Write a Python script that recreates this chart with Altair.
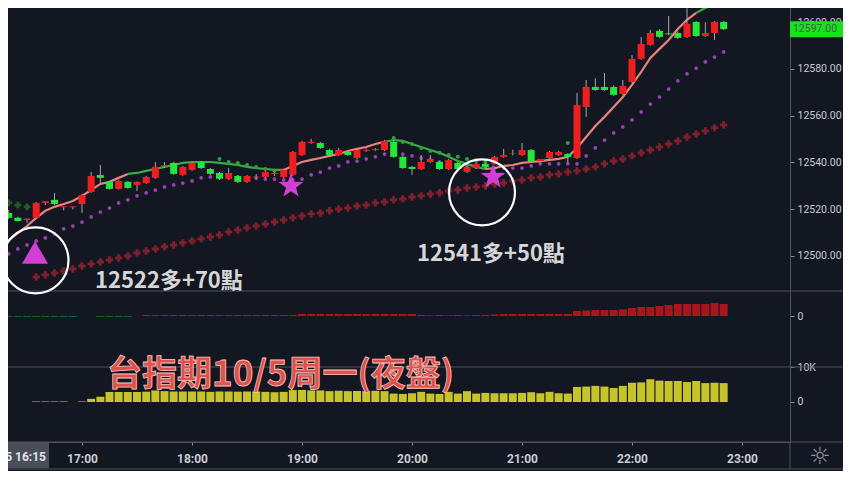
import altair as alt
import pandas as pd
from datetime import datetime, timedelta

# ---------------- data ----------------
# 5-minute bars from 16:15 to 22:50 (80 bars)
bar_open = [12517.1, 12518.4, 12516.3, 12515.4, 12516.3, 12522.7, 12524.0, 12520.8, 12520.8,
            12522.2, 12527.4, 12534.6, 12531.7, 12528.7, 12531.7, 12530.4, 12531.2, 12533.4, 12538.4,
            12539.8, 12534.7, 12536.8, 12540.2, 12537.2, 12535.5, 12533.0, 12534.2, 12531.7, 12533.6,
            12533.8, 12535.0, 12533.8, 12534.7, 12543.2, 12548.3, 12548.3, 12545.3, 12543.2, 12544.5,
            12541.9, 12545.0, 12545.3, 12545.3, 12548.8, 12542.4, 12538.1, 12537.2, 12540.2, 12540.2,
            12537.2, 12539.8, 12535.9, 12537.6, 12539.4, 12539.4, 12542.4, 12543.8, 12543.2, 12545.3,
            12540.6, 12541.9, 12543.2, 12543.6, 12541.9, 12563.7, 12572.3, 12572.3, 12572.3, 12569.3,
            12574.4, 12584.3, 12590.3, 12596.3, 12595.2, 12595.4, 12593.7, 12600.1, 12594.1, 12595.4,
            12600.1]
bar_high = [12520.5, 12519.7, 12516.8, 12516.0, 12523.1, 12523.4, 12527.0, 12521.2, 12521.2,
            12526.5, 12535.9, 12538.9, 12532.1, 12532.5, 12532.1, 12531.9, 12534.2, 12540.2, 12540.2,
            12540.2, 12538.5, 12540.2, 12540.6, 12537.6, 12535.9, 12537.6, 12534.6, 12534.6, 12535.0,
            12536.3, 12535.9, 12537.2, 12544.9, 12549.2, 12550.1, 12548.8, 12545.8, 12546.2, 12544.9,
            12545.8, 12546.0, 12546.2, 12549.6, 12549.2, 12542.8, 12538.5, 12543.2, 12543.2, 12540.6,
            12541.5, 12540.2, 12538.5, 12539.8, 12539.8, 12542.8, 12545.8, 12545.5, 12548.3, 12545.8,
            12541.5, 12544.9, 12544.9, 12544.0, 12569.7, 12575.3, 12576.0, 12578.3, 12573.0, 12575.3,
            12586.0, 12593.7, 12596.7, 12597.0, 12602.7, 12596.0, 12606.0, 12600.5, 12600.0, 12600.5,
            12600.5]
bar_low = [12516.5, 12515.8, 12514.8, 12514.1, 12515.8, 12521.8, 12521.8, 12519.5, 12519.9,
           12518.4, 12527.0, 12531.2, 12528.4, 12528.4, 12528.7, 12527.8, 12530.8, 12533.0, 12537.6,
           12534.7, 12534.3, 12536.4, 12537.2, 12534.7, 12532.5, 12532.5, 12531.2, 12531.2, 12532.4,
           12533.4, 12534.2, 12533.4, 12534.2, 12542.8, 12548.0, 12545.8, 12542.8, 12542.8, 12542.8,
           12541.5, 12544.5, 12544.9, 12544.9, 12542.0, 12537.2, 12534.7, 12536.8, 12539.8, 12536.8,
           12536.8, 12536.8, 12535.5, 12537.2, 12537.6, 12539.0, 12542.0, 12543.0, 12542.8, 12539.8,
           12540.2, 12541.5, 12542.8, 12539.8, 12541.5, 12559.5, 12570.6, 12570.6, 12568.5, 12568.9,
           12574.0, 12583.9, 12589.9, 12593.3, 12594.4, 12592.9, 12593.3, 12593.7, 12593.7, 12592.4,
           12596.7]
bar_close = [12519.7, 12516.3, 12515.0, 12516.0, 12522.7, 12523.4, 12522.2, 12521.2, 12521.2,
             12526.1, 12534.2, 12533.4, 12528.7, 12532.1, 12529.1, 12531.7, 12533.8, 12538.1, 12538.8,
             12535.1, 12538.1, 12539.8, 12537.6, 12535.1, 12533.0, 12535.5, 12531.7, 12534.2, 12533.9,
             12535.9, 12535.5, 12536.8, 12544.5, 12548.8, 12548.8, 12546.2, 12543.2, 12545.3, 12543.2,
             12545.3, 12545.4, 12545.8, 12549.2, 12542.4, 12537.6, 12537.2, 12540.2, 12541.5, 12537.2,
             12541.1, 12537.2, 12538.1, 12539.4, 12538.1, 12542.4, 12543.2, 12544.0, 12545.3, 12540.2,
             12541.5, 12544.5, 12544.5, 12542.4, 12564.6, 12572.3, 12571.0, 12571.0, 12568.9, 12572.7,
             12584.3, 12590.7, 12595.4, 12593.7, 12594.8, 12593.3, 12599.3, 12594.1, 12595.4, 12600.1,
             12597.0]

# fast moving average (line) and its trend state
ma_fast = [12503.9, 12506.8, 12509.8, 12512.8, 12516.3, 12519.3, 12521.0, 12522.2, 12523.5,
           12525.7, 12528.2, 12530.8, 12531.7, 12533.4, 12535.1, 12535.5, 12536.4, 12537.2, 12538.1,
           12538.9, 12539.8, 12540.2, 12540.2, 12540.2, 12539.8, 12539.4, 12538.9, 12538.1, 12537.6,
           12537.2, 12536.8, 12536.8, 12538.5, 12540.2, 12541.1, 12541.9, 12542.8, 12543.6, 12544.9,
           12545.8, 12546.6, 12547.9, 12548.8, 12549.6, 12549.2, 12547.9, 12546.6, 12545.3, 12544.1,
           12542.4, 12540.6, 12539.4, 12538.1, 12537.2, 12537.6, 12538.5, 12538.9, 12539.8, 12540.2,
           12540.6, 12541.1, 12541.5, 12542.4, 12546.2, 12550.9, 12555.6, 12559.5, 12563.7, 12568.0,
           12573.2, 12578.7, 12584.7, 12588.6, 12592.4, 12597.1, 12601.0, 12604.0, 12606.1, 12607.4,
           12608.2]
ma_state = (["up"] * 15 + ["down"] * 17 + ["up"] * 11 + ["down"] * 11 + ["up"] * 23 + ["down"] * 3)

# middle average (purple dots)
ma_mid = [12499.1, 12500.9, 12503.0, 12504.7, 12506.4, 12507.7, 12509.4, 12511.6, 12512.8,
          12514.5, 12516.7, 12518.8, 12520.5, 12522.7, 12524.0, 12525.7, 12527.0, 12528.2, 12529.5,
          12530.4, 12531.2, 12532.1, 12533.4, 12533.8, 12533.8, 12533.8, 12533.8, 12533.4, 12533.4,
          12532.9, 12532.9, 12532.5, 12532.5, 12532.9, 12534.7, 12535.9, 12537.6, 12538.5, 12540.2,
          12540.6, 12541.5, 12542.4, 12543.6, 12544.1, 12543.6, 12542.8, 12541.9, 12541.1, 12540.2,
          12539.8, 12538.9, 12538.5, 12538.1, 12537.6, 12537.6, 12537.6, 12537.6, 12537.6, 12538.5,
          12539.4, 12539.4, 12539.4, 12539.4, 12539.4, 12542.8, 12546.2, 12549.6, 12552.6, 12555.2,
          12558.2, 12561.6, 12565.0, 12568.0, 12571.4, 12574.9, 12577.9, 12580.4, 12583.0, 12585.1,
          12587.3]

# slow average (dark red crosses), first four bars not drawn
ma_slow = [None, None, None, None, 12491.0, 12491.9, 12492.7, 12493.6, 12494.4,
           12495.7, 12496.6, 12497.4, 12498.3, 12499.1, 12500.0, 12501.3, 12502.1, 12503.0, 12503.9,
           12504.7, 12505.6, 12506.4, 12507.3, 12508.1, 12509.0, 12510.3, 12511.1, 12512.0, 12512.8,
           12513.7, 12514.5, 12515.4, 12516.3, 12517.1, 12518.0, 12518.4, 12519.3, 12520.1, 12520.5,
           12521.4, 12521.8, 12522.7, 12523.1, 12524.0, 12524.4, 12525.2, 12525.7, 12526.5, 12527.0,
           12527.8, 12528.2, 12529.1, 12529.5, 12529.9, 12530.8, 12531.2, 12532.1, 12532.5, 12533.4,
           12533.8, 12534.7, 12535.1, 12535.9, 12536.4, 12537.2, 12538.1, 12539.4, 12540.6, 12541.5,
           12542.8, 12544.1, 12545.3, 12546.6, 12547.9, 12549.2, 12550.9, 12552.2, 12553.5, 12554.8,
           12556.0]

# stop dots above price (green), by bar index
stop_idx = [24, 25, 26, 27, 28, 29, 30, 43, 44, 45, 46, 47, 48, 49, 50, 51, 52, 53, 62]
stop_val = [12541.5, 12540.2, 12539.8, 12538.9, 12538.1, 12537.2, 12536.4,
            12550.5, 12548.8, 12547.9, 12546.2, 12544.9, 12544.1, 12543.2, 12542.4, 12541.5,
            12540.6, 12540.2, 12548.3]
# dark green crosses at the far left
early_idx = [0, 1, 2, 3]
early_val = [12523.5, 12522.7, 12521.8, 12521.0]

# oscillator histogram (panel 2)
hist_vals = [-0.8, -0.8, -0.8, -0.8, -0.8, -0.8, -0.8, -0.8, -0.8,
             0, 0, -0.8, -0.8, -0.8, -0.8, 0, 1, 1, 1,
             1, 1, 1, 1, 1, 1, 1, 1, 1, 1,
             1, 1, 1, 1, 2, 2, 2, 2, 2, 2,
             2, 2, 2, 2, 2, 2, 2, 1, 0.6, 1,
             0.6, 1, 0.6, 1, 1, 1.5, 2, 2, 2, 2,
             2, 2, 2, 2, 5, 5.5, 6, 6, 6, 6.5,
             8, 9, 9, 10, 11, 12, 12, 12, 12, 13,
             12]

# volume (panel 3)
vol_vals = [0, 0, 0, 0, 150, 150, 150, 150, 0,
            150, 900, 1500, 2850, 2850, 2850, 2850, 2950, 3300, 3100,
            3000, 3000, 3000, 3000, 2900, 3000, 3000, 2950, 3000, 3000,
            2900, 2800, 2900, 3400, 3450, 3300, 3300, 3100, 3200, 3100,
            3150, 3100, 3200, 3100, 2400, 2300, 2500, 2900, 2400, 2300,
            2900, 2400, 3100, 2400, 2600, 2500, 2500, 2500, 2600, 2800,
            2500, 2900, 2500, 2400, 4300, 4400, 4600, 4400, 4000, 4600,
            5500, 5600, 6500, 6100, 6000, 6000, 5700, 6000, 5400, 5500,
            5400]

price_ticks = [12500, 12520, 12540, 12560, 12580, 12600]
hour_ticks = [17, 18, 19, 20, 21, 22, 23]
last_price = 12597.0

notes_text = ["12522多+70點", "12541多+50點"]
notes_time = ["2020-10-05T17:07:05", "2020-10-05T20:02:44"]
notes_price = [12489.3, 12500.9]

ring_time = ["2020-10-05T16:34:38", "2020-10-05T20:38:11"]
ring_price = [12498.1, 12527.2]
star_time = ["2020-10-05T18:54:00", "2020-10-05T20:44:12"]
star_price = [12529.9, 12533.8]
tri_time = ["2020-10-05T16:34:22"]
tri_price = [12501.5]

title_text = "台指期10/5周一(夜盤)"
title_time = "2020-10-05T17:13:38"
title_level = 7714

# ---------------- tables ----------------
N = len(bar_open)
base = datetime(2020, 10, 5, 16, 15)
times = [(base + timedelta(minutes=5 * i)).strftime("%Y-%m-%dT%H:%M:%S") for i in range(N)]

candles = pd.DataFrame({"t": times, "o": bar_open, "h": bar_high, "l": bar_low, "c": bar_close})
candles["dir"] = ["rise" if c >= o else "fall" for o, c in zip(bar_open, bar_close)]

rows = []
grp = 0
for i in range(N):
    if i > 0 and ma_state[i] != ma_state[i - 1]:
        grp += 1
        rows.append(dict(t=times[i - 1], v=ma_fast[i - 1], state=ma_state[i], grp=grp))
    rows.append(dict(t=times[i], v=ma_fast[i], state=ma_state[i], grp=grp))
ma_df = pd.DataFrame(rows)
mid_df = pd.DataFrame({"t": times, "v": ma_mid})
slow_df = pd.DataFrame({"t": times, "v": ma_slow}).dropna()
stop_df = pd.DataFrame({"t": [times[i] for i in stop_idx], "v": stop_val})
early_df = pd.DataFrame({"t": [times[i] for i in early_idx], "v": early_val})
hist_df = pd.DataFrame({"t": times, "v": hist_vals})
hist_df["sign"] = ["pos" if v >= 0 else "neg" for v in hist_vals]
hist_df = hist_df[hist_df["v"] != 0]
vol_df = pd.DataFrame({"t": times, "v": vol_vals})
vol_df = vol_df[vol_df["v"] > 0]
notes_df = pd.DataFrame({"t": notes_time, "p": notes_price, "txt": notes_text})
ring_df = pd.DataFrame({"t": ring_time, "p": ring_price})
star_df = pd.DataFrame({"t": star_time, "p": star_price})
tri_df = pd.DataFrame({"t": tri_time, "p": tri_price})
title_df = pd.DataFrame({"t": [title_time], "v": [title_level], "txt": [title_text]})
last_df = pd.DataFrame({"p": [last_price], "txt": [f"{last_price:.2f}"]})

# ---------------- scales / axes ----------------
BG = "#131722"
LINE = "#50535e"
LABEL = "#c9ccd4"
FONT = "Roboto"

def dt(h, m=0, s=0):
    return alt.DateTime(year=2020, month=10, date=5, hours=h, minutes=m, seconds=s)

xscale = alt.Scale(domain=[dt(16, 15, 16), dt(23, 26, 11)], padding=0)
xaxis = alt.Axis(format="%H:%M", values=[dt(h) for h in hour_ticks], title=None, grid=False,
                 labelColor=LABEL, labelFont=FONT, labelFontSize=12, labelFontWeight="bold",
                 tickColor="#8a8d96", tickSize=3, domainColor=LINE, labelPadding=8)

def X(field="t"):
    return alt.X(f"{field}:T", scale=xscale, axis=xaxis)

price_scale = alt.Scale(domain=[12485.0, 12609.5], range=[291, 0], nice=False, zero=False)
hist_scale = alt.Scale(domain=[-51, 25], range=[367, 291], nice=False, zero=False)
vol_scale = alt.Scale(domain=[-11429, 10000], range=[442, 367], nice=False, zero=False)

axis_style = dict(orient="right", title=None, grid=False, labelColor=LABEL, labelFont=FONT,
                  labelFontSize=10.5, tickColor="#8a8d96", tickSize=4, domainColor=LINE,
                  labelPadding=3)

def PY(field, axis=None):
    return alt.Y(f"{field}:Q", scale=price_scale, axis=axis)

price_axis = alt.Axis(values=price_ticks, format=".2f", **axis_style)
hist_axis = alt.Axis(values=[0], labelExpr="'0'", **axis_style)
vol_axis = alt.Axis(values=[0, 10000], labelExpr="datum.value == 0 ? '0' : '10K'", **axis_style)

STAR = ("M0,-1L0.235,-0.324L0.951,-0.309L0.38,0.124L0.588,0.809L0,0.4L-0.588,0.809"
        "L-0.38,0.124L-0.951,-0.309L-0.235,-0.324Z")
BOX = "M-3.8125,-1L3.8125,-1L3.8125,1L-3.8125,1Z"
MAGENTA = "#d23fd4"

# ---------------- layers ----------------
wicks = alt.Chart(candles).mark_rule(color="#a3a6af", strokeWidth=1).encode(
    x=X(), y=PY("l", price_axis), y2="h:Q")
bodies = alt.Chart(candles).mark_bar(width=7).encode(
    x=X(), y=PY("o"), y2="c:Q",
    color=alt.Color("dir:N", scale=alt.Scale(domain=["rise", "fall"], range=["#f01e1e", "#22e83a"]),
                    legend=None))
slow = alt.Chart(slow_df).mark_point(shape="cross", filled=True, size=55, color="#7e1f2c",
                                     opacity=1).encode(x=X(), y=PY("v"))
early = alt.Chart(early_df).mark_point(shape="cross", filled=True, size=45, color="#1f5e2b",
                                       opacity=1).encode(x=X(), y=PY("v"))
mid = alt.Chart(mid_df).mark_circle(size=14, color="#9c40b6", opacity=1).encode(x=X(), y=PY("v"))
fast = alt.Chart(ma_df).mark_line(strokeWidth=2.2).encode(
    x=X(), y=PY("v"), detail="grp:N",
    color=alt.Color("state:N", scale=alt.Scale(domain=["up", "down"], range=["#e8837d", "#37ad43"]),
                    legend=None))
stops = alt.Chart(stop_df).mark_circle(size=16, color="#2f9f3c", opacity=1).encode(x=X(), y=PY("v"))

rings = alt.Chart(ring_df).mark_point(shape="circle", filled=False, size=4350, color="white",
                                      strokeWidth=2.2, opacity=1).encode(x=X(), y=PY("p"))
tri = alt.Chart(tri_df).mark_point(shape="triangle-up", filled=True, size=680, color=MAGENTA,
                                   opacity=1).encode(x=X(), y=PY("p"))
stars = alt.Chart(star_df).mark_point(shape=STAR, filled=True, size=680, color=MAGENTA,
                                      opacity=1).encode(x=X(), y=PY("p"))
notes = alt.Chart(notes_df).mark_text(align="left", baseline="middle", fontSize=22,
                                      fontWeight="bold", font="Noto Sans CJK TC",
                                      color="#d6d6d6").encode(x=X(), y=PY("p"), text="txt:N")

last_box = alt.Chart(last_df).mark_point(shape=BOX, filled=True, size=256, color="#16e21c",
                                         opacity=1).encode(x=alt.value(820.5), y=PY("p"))
last_txt = alt.Chart(last_df).mark_text(fontSize=10.5, font=FONT, color="#4d5a4d").encode(
    x=alt.value(815), y=PY("p"), text="txt:N")

hist = alt.Chart(hist_df).mark_bar(width=8).encode(
    x=X(), y=alt.Y("v:Q", scale=hist_scale, axis=hist_axis), y2=alt.datum(0),
    color=alt.Color("sign:N", scale=alt.Scale(domain=["pos", "neg"], range=["#a8161c", "#1f6e2c"]),
                    legend=None))

vol = alt.Chart(vol_df).mark_bar(width=8, color="#c6c32b").encode(
    x=X(), y=alt.Y("v:Q", scale=vol_scale, axis=vol_axis), y2=alt.datum(0))

title = alt.Chart(title_df).mark_text(align="left", baseline="middle", fontSize=35,
                                      font="Noto Sans CJK TC", fontWeight="bold",
                                      color="#e0504c", stroke="#f6c2ba", strokeWidth=0.8).encode(
    x=X(), y=alt.Y("v:Q", scale=vol_scale, axis=None), text="txt:N")

# decorations: panel separators, time-axis frame, crosshair label, settings glyph
def hrule(ypix):
    return alt.Chart().mark_rule(color=LINE, strokeWidth=1).encode(
        x=alt.value(-8), x2=alt.value(851), y=alt.value(ypix))

sep1 = hrule(291)
sep2 = hrule(367)
sep3 = hrule(442)
sep4 = hrule(469)
vline = alt.Chart().mark_rule(color=LINE, strokeWidth=1).encode(
    x=alt.value(790), y=alt.value(442), y2=alt.value(469))
cross_box = alt.Chart().mark_rect(color="#4a4e5a").encode(
    x=alt.value(-8), x2=alt.value(49), y=alt.value(443), y2=alt.value(468))
cross_txt = alt.Chart().mark_text(text="05  16:15", align="right", baseline="middle", fontSize=12,
                                  font=FONT, fontWeight="bold", color="#e0e3eb").encode(
    x=alt.value(46), y=alt.value(457))
gear = alt.Chart().mark_text(text="☼", fontSize=24, font="DejaVu Sans", color="#9598a1").encode(
    x=alt.value(820), y=alt.value(457))

chart = alt.layer(
    sep1, sep2, sep3, sep4, vline,
    vol, hist,
    slow, early, mid, fast, stops,
    wicks, bodies,
    rings, tri, stars, notes,
    title,
    last_box, last_txt,
    cross_box, cross_txt, gear,
).resolve_scale(y="independent", color="independent").resolve_axis(y="independent").properties(
    width=790, height=442,
    padding={"left": -8, "top": -8, "right": 53, "bottom": 29},
    autosize=alt.AutoSizeParams(type="none"),
    background=BG,
).configure_view(stroke=None)

chart.save("out.html", embed_options={"renderer": "svg", "actions": False})
